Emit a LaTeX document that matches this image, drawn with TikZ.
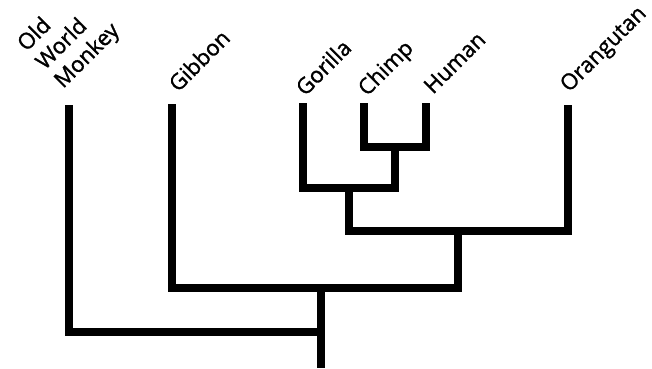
\documentclass[tikz,border=0pt]{standalone}
\usepackage{fontspec}
\setmainfont{Open Sans}
\newfontfamily\labelfont[FakeBold=1.3]{Open Sans}
\begin{document}
\begin{tikzpicture}[x=1pt,y=-1pt,
  branch/.style={line width=8.5pt, line join=miter, line cap=butt, black},
  taxon/.style={rotate=45, anchor=base west, inner sep=0pt, font=\labelfont\fontsize{22}{27}\selectfont}]
\useasboundingbox (0,0) rectangle (652,368);
% tips of the branches
\coordinate (tOWM) at (69,105);
\coordinate (tGib) at (172,104);
\coordinate (tGor) at (303,103);
\coordinate (tChi) at (364,103);
\coordinate (tHum) at (426,103);
\coordinate (tOra) at (568,105);
% inner nodes
\coordinate (nCH) at (395,147);
\coordinate (nG) at (349,188);
\coordinate (nO) at (458,231);
\coordinate (nGb) at (321,288);
\coordinate (nR) at (321,332);
\coordinate (root) at (321,368);
% labels
\node[rotate=45, anchor=south west, inner sep=0pt, align=left, font=\labelfont\fontsize{22}{26}\selectfont] (lOWM) at (67,93) {Old\\World\\Monkey};
\node[taxon] (lGib) at (178,93) {Gibbon};
\node[taxon] (lGor) at (305,97) {Gorilla};
\node[taxon] (lChi) at (367,97) {Chimp};
\node[taxon] (lHum) at (433,95) {Human};
\node[taxon] (lOra) at (569,93) {Orangutan};
% tree
\draw[branch] (tChi) |- (nCH) -| (tHum);
\draw[branch] (nCH) |- (nG) -| (tGor);
\draw[branch] (nG) |- (nO) -| (tOra);
\draw[branch] (nO) |- (nGb) -| (tGib);
\draw[branch] (nGb) |- (nR) -| (tOWM);
\draw[branch] (nR) -- (root);
\end{tikzpicture}
\end{document}
